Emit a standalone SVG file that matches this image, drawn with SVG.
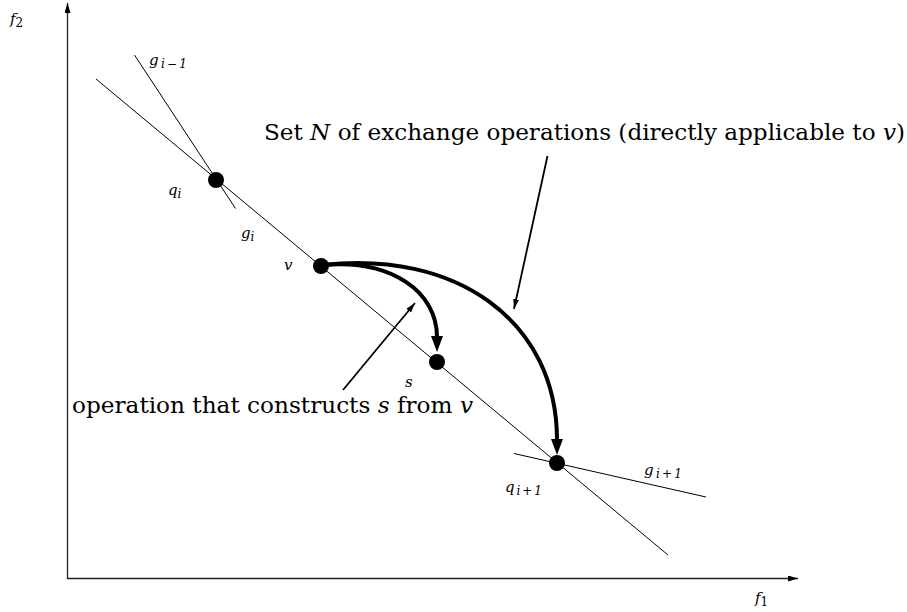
<svg xmlns="http://www.w3.org/2000/svg" width="907" height="612" viewBox="0 0 907 612">
<style>
text{font-family:"DejaVu Serif",serif;fill:#000}
.lab{font-style:italic;font-size:15px}
.sub{font-size:12px}
.big{font-size:23px}
.thin{stroke:#000;stroke-width:1;fill:none}
.axis{stroke:#222;stroke-width:1.3;fill:none}
.thick{stroke:#000;stroke-width:4;fill:none}
.ptr{stroke:#000;stroke-width:1.8;fill:none}
</style>
<defs>
<marker id="ah" viewBox="0 0 10 6" refX="10" refY="3" markerWidth="10" markerHeight="6" markerUnits="userSpaceOnUse" orient="auto">
<path d="M0,0 L10,3 L0,6 Z" fill="#000"/>
</marker>
<marker id="ahb" viewBox="0 0 16 12" refX="1" refY="6" markerWidth="16" markerHeight="12" markerUnits="userSpaceOnUse" orient="auto">
<path d="M0,0 L16,6 L0,12 Z" fill="#000"/>
</marker>
</defs>
<rect width="907" height="612" fill="#fff"/>
<g id="axes">
<line class="axis" x1="67.5" y1="579" x2="67.5" y2="3" marker-end="url(#ah)"/>
<line class="axis" x1="67" y1="578.5" x2="798" y2="578.5" marker-end="url(#ah)"/>
<text class="lab" x="10" y="24">f<tspan class="sub" font-style="normal" dy="3">2</tspan></text>
<text class="lab" x="755" y="603">f<tspan class="sub" font-style="normal" dy="3">1</tspan></text>
</g>
<g id="lines">
<line class="thin" x1="96" y1="79" x2="668" y2="555"/>
<line class="thin" x1="134.5" y1="55" x2="235.5" y2="208.5"/>
<line class="thin" x1="514" y1="453.5" x2="706" y2="497"/>
</g>
<g id="connectors">
<path class="thick" d="M323,265 C392,259 437,292 437,337" marker-end="url(#ahb)"/>
<path class="thick" d="M323,265 C455,250 557,320 557,440" marker-end="url(#ahb)"/>
<line class="ptr" x1="547.5" y1="156" x2="514" y2="309" marker-end="url(#ah)"/>
<line class="ptr" x1="343" y1="390" x2="415" y2="303" marker-end="url(#ah)"/>
</g>
<g id="node-qi"><circle cx="216" cy="180" r="8"/><text class="lab" x="168" y="195">q<tspan class="sub" dy="3">i</tspan></text></g>
<g id="node-v"><circle cx="321" cy="266" r="8"/><text class="lab" x="284" y="270">v</text></g>
<g id="node-s"><circle cx="437" cy="362" r="8"/><text class="lab" x="405" y="387">s</text></g>
<g id="node-qi1"><circle cx="557" cy="463" r="8"/><text class="lab" x="505" y="492" textLength="37">q<tspan class="sub" dy="3">i+1</tspan></text></g>
<g id="labels">
<text class="lab" x="149" y="65" textLength="38">g<tspan class="sub" dy="3">i−1</tspan></text>
<text class="lab" x="241" y="238">g<tspan class="sub" dy="3">i</tspan></text>
<text class="lab" x="644" y="475" textLength="38">g<tspan class="sub" dy="3">i+1</tspan></text>
<text class="big" x="264" y="140" textLength="641" lengthAdjust="spacingAndGlyphs">Set <tspan font-style="italic">N</tspan> of exchange operations (directly applicable to <tspan font-style="italic">v</tspan>)</text>
<text class="big" x="72" y="413" textLength="401" lengthAdjust="spacingAndGlyphs">operation that constructs <tspan font-style="italic">s</tspan> from <tspan font-style="italic">v</tspan></text>
</g>
</svg>
